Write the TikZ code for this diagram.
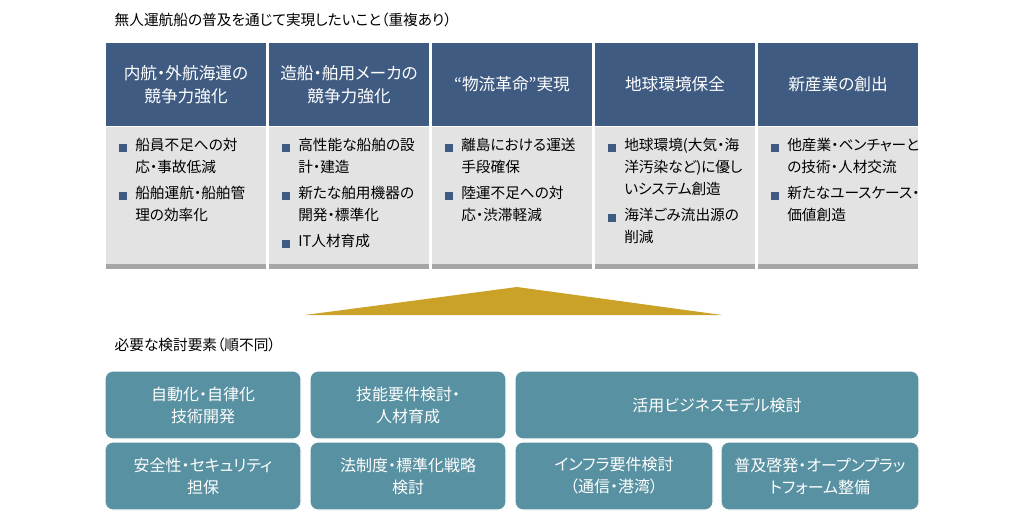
\documentclass[tikz,border=0pt]{standalone}
\usepackage{fontspec}
\setmainfont[RawFeature=+palt]{Noto Sans CJK JP}
\definecolor{hdr}{HTML}{3F5B82}
\definecolor{bod}{HTML}{E3E3E3}
\definecolor{bar}{HTML}{A6A6A6}
\definecolor{gold}{HTML}{C9A227}
\definecolor{teal}{HTML}{5891A1}
\begin{document}
\begin{tikzpicture}[x=0.75pt,y=-0.75pt,
 hdrtxt/.style={text=white,align=center,font=\fontsize{12.5}{17}\selectfont},
 btxt/.style={anchor=north west,inner sep=0pt,align=left,font=\fontsize{11}{16.5}\selectfont},
 sq/.style={fill=hdr,minimum size=5.5pt,inner sep=0pt},
 tbox/.style={draw=white,line width=0.8pt,fill=teal,rounded corners=6pt,text=white,align=center,font=\fontsize{12}{16.5}\selectfont},
 ttl/.style={anchor=west,font=\fontsize{11}{13}\selectfont}]
\useasboundingbox (0,0) rectangle (1024,520);
\node[ttl] (t1) at (110,20) {無人運航船の普及を通じて実現したいこと（重複あり）};
\foreach \i/\x/\h in {1/106/{内航・外航海運の\\競争力強化},2/269/{造船・舶用メーカの\\競争力強化},3/432/{“物流革命”実現},4/595/{地球環境保全},5/758/{新産業の創出}}{
 \fill[hdr] (\x,43) rectangle ++(160,83);
 \fill[bod] (\x,127) rectangle ++(160,137);
 \fill[bar] (\x,264) rectangle ++(160,5);
 \node[hdrtxt] (h\i) at (\x+80,84.5) {\h};
}
\newcommand\bul[4]{\node[sq] (s#1) at (#2+17,#3+10) {};\node[btxt] (b#1) at (#2+29,#3) {#4};}
\bul{11}{106}{138}{船員不足への対\\応・事故低減}
\bul{12}{106}{186}{船舶運航・船舶管\\理の効率化}
\bul{21}{269}{138}{高性能な船舶の設\\計・建造}
\bul{22}{269}{186}{新たな舶用機器の\\開発・標準化}
\bul{23}{269}{234}{IT人材育成}
\bul{31}{432}{138}{離島における運送\\手段確保}
\bul{32}{432}{186}{陸運不足への対\\応・渋滞軽減}
\bul{41}{595}{138}{地球環境(大気・海\\洋汚染など)に優し\\いシステム創造}
\bul{42}{595}{208}{海洋ごみ流出源の\\削減}
\bul{51}{758}{138}{他産業・ベンチャーと\\の技術・人材交流}
\bul{52}{758}{186}{新たなユースケース・\\価値創造}
\fill[gold] (305,315) -- (517,287) -- (722,315) -- cycle;
\node[ttl] (t2) at (110,345) {必要な検討要素（順不同）};
\node[tbox,minimum width=196*0.75pt,minimum height=68*0.75pt] (e1) at (203,405) {自動化・自律化\\技術開発};
\node[tbox,minimum width=196*0.75pt,minimum height=68*0.75pt] (e2) at (408,405) {技能要件検討・\\人材育成};
\node[tbox,minimum width=404*0.75pt,minimum height=68*0.75pt] (e3) at (717,405) {活用ビジネスモデル検討};
\node[tbox,minimum width=196*0.75pt,minimum height=68*0.75pt] (e4) at (203,476) {安全性・セキュリティ\\担保};
\node[tbox,minimum width=196*0.75pt,minimum height=68*0.75pt] (e5) at (408,476) {法制度・標準化戦略\\検討};
\node[tbox,minimum width=198*0.75pt,minimum height=68*0.75pt] (e6) at (614,476) {インフラ要件検討\\（通信・港湾）};
\node[tbox,minimum width=198*0.75pt,minimum height=68*0.75pt] (e7) at (820,476) {普及啓発・オープンプラッ\\トフォーム整備};
\end{tikzpicture}
\end{document}
